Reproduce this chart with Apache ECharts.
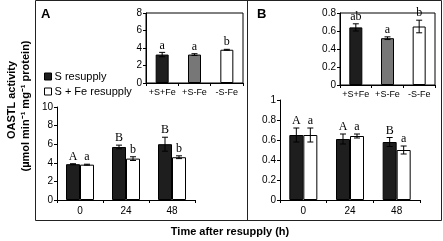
<!DOCTYPE html>
<html>
<head>
<meta charset="utf-8">
<script src="https://cdn.jsdelivr.net/npm/echarts@6/dist/echarts.min.js"></script>
<style>
html,body{margin:0;padding:0;background:#fff;}
#chart{width:443px;height:241px;}
</style>
</head>
<body>
<div id="chart"></div>
<script>
// time points + inset treatments
var times = ['0', '24', '48'];
var treatments = ['+S+Fe', '+S-Fe', '-S-Fe'];

// panel A
var aS = [3.85, 5.7, 6.0];
var aSErr = [0.05, 0.2, 0.75];
var aSLetters = ['A', 'B', 'B'];
var aSFe = [3.8, 4.45, 4.6];
var aSFeErr = [0.05, 0.2, 0.15];
var aSFeLetters = ['a', 'b', 'b'];
var aInset = [3.25, 3.25, 3.8];
var aInsetErr = [0.25, 0.1, 0.05];
var aInsetLetters = ['a', 'a', 'b'];

// panel B
var bS = [0.65, 0.61, 0.58];
var bSErr = [0.07, 0.05, 0.045];
var bSLetters = ['A', 'A', 'B'];
var bSFe = [0.65, 0.64, 0.50];
var bSFeErr = [0.07, 0.02, 0.04];
var bSFeLetters = ['a', 'a', 'a'];
var bInset = [0.64, 0.52, 0.65];
var bInsetErr = [0.04, 0.015, 0.07];
var bInsetLetters = ['ab', 'a', 'b'];

var insetColors = ['#1e1e1e', '#777777', '#ffffff'];

var myChart = echarts.init(document.getElementById('chart'));

function errData(vals, errs, letters) {
    return vals.map(function (v, i) { return [i, v, errs[i], letters[i]]; });
}

// error bar + significance letter
function errSeries(name, xi, yi, vals, errs, letters, offset) {
    return {
        name: name,
        type: 'custom',
        xAxisIndex: xi,
        yAxisIndex: yi,
        z: 5,
        encode: {x: 0, y: 1},
        data: errData(vals, errs, letters),
        renderItem: function (params, api) {
            var i = api.value(0), v = api.value(1), e = api.value(2);
            var top = api.coord([i, v + e]);
            var bot = api.coord([i, v - e]);
            var x = top[0] + offset;
            return {
                type: 'group',
                children: [
                    {type: 'line', shape: {x1: x, y1: top[1], x2: x, y2: bot[1]}, style: {stroke: '#000', lineWidth: 1}},
                    {type: 'line', shape: {x1: x - 3, y1: top[1], x2: x + 3, y2: top[1]}, style: {stroke: '#000', lineWidth: 1}},
                    {type: 'line', shape: {x1: x - 3, y1: bot[1], x2: x + 3, y2: bot[1]}, style: {stroke: '#000', lineWidth: 1}},
                    {type: 'text', style: {
                        text: letters[i], x: x, y: top[1] - 1,
                        textAlign: 'center', textVerticalAlign: 'bottom',
                        font: '12px "Liberation Serif", serif', fill: '#000'
                    }}
                ]
            };
        }
    };
}

var tickFont = {fontFamily: '"Liberation Sans", Arial, sans-serif', fontSize: 10, color: '#000'};
var axisLine = {show: true, lineStyle: {color: '#000', width: 1}};

function mainX(idx) {
    return {
        gridIndex: idx, type: 'category', data: times,
        axisLine: axisLine,
        axisTick: {show: true, length: 3, lineStyle: {color: '#000'}},
        axisLabel: Object.assign({margin: 6}, tickFont)
    };
}
function insetX(idx) {
    return {
        gridIndex: idx, type: 'category', data: treatments,
        axisLine: axisLine,
        axisTick: {show: true, length: 3, lineStyle: {color: '#000'}},
        axisLabel: Object.assign({margin: 5, interval: 0}, tickFont, {fontSize: 9})
    };
}
function yAx(idx, max, interval) {
    return {
        gridIndex: idx, type: 'value', min: 0, max: max, interval: interval,
        splitLine: {show: false},
        axisLine: axisLine,
        axisTick: {show: true, length: 3, lineStyle: {color: '#000'}},
        axisLabel: Object.assign({margin: 4}, tickFont)
    };
}

var option = {
    animation: false,
    backgroundColor: '#fff',
    grid: [
        {left: 57, right: 248, top: 107, bottom: 41},
        {left: 146, right: 200, top: 13, bottom: 158, show: true, borderColor: '#000', borderWidth: 1, backgroundColor: 'transparent'},
        {left: 280, right: 23, top: 100, bottom: 41},
        {left: 340, right: 8, top: 13, bottom: 156, show: true, borderColor: '#000', borderWidth: 1, backgroundColor: 'transparent'}
    ],
    xAxis: [mainX(0), insetX(1), mainX(2), insetX(3)],
    yAxis: [yAx(0, 10, 2), yAx(1, 8, 2), yAx(2, 1, 0.2), yAx(3, 0.8, 0.2)],
    legend: {
        orient: 'vertical', left: 39, top: 66,
        itemWidth: 7, itemHeight: 7, itemGap: 4,
        icon: 'rect',
        data: [
            {name: 'S resupply', itemStyle: {color: '#1e1e1e', borderColor: '#000', borderWidth: 1}},
            {name: 'S + Fe resupply', itemStyle: {color: '#fff', borderColor: '#000', borderWidth: 1}}
        ],
        textStyle: {fontFamily: '"Liberation Sans", Arial, sans-serif', fontSize: 11, color: '#000', padding: [0, 0, 0, -2]}
    },
    graphic: [
        {type: 'rect', shape: {x: 35.5, y: 0.5, width: 406, height: 220}, style: {fill: 'none', stroke: '#222', lineWidth: 1}},
        {type: 'line', shape: {x1: 247.5, y1: 0, x2: 247.5, y2: 220}, style: {stroke: '#222', lineWidth: 1}},
        {type: 'text', left: 41, top: 8, style: {text: 'A', font: 'bold 13px "Liberation Sans", Arial, sans-serif', fill: '#000'}},
        {type: 'text', left: 257, top: 8, style: {text: 'B', font: 'bold 13px "Liberation Sans", Arial, sans-serif', fill: '#000'}},
        {type: 'text', x: 12, y: 100, rotation: Math.PI / 2, style: {text: 'OASTL activity', textAlign: 'center', textVerticalAlign: 'middle', font: 'bold 11px "Liberation Sans", Arial, sans-serif', fill: '#000'}},
        {type: 'text', x: 26, y: 106, rotation: Math.PI / 2, style: {text: '(\u00b5mol min\u207b\u00b9 mg\u207b\u00b9 protein)', textAlign: 'center', textVerticalAlign: 'middle', font: 'bold 11px "Liberation Sans", Arial, sans-serif', fill: '#000'}},
        {type: 'text', x: 230, y: 232, style: {text: 'Time after resupply (h)', textAlign: 'center', textVerticalAlign: 'middle', font: 'bold 11px "Liberation Sans", Arial, sans-serif', fill: '#000'}}
    ],
    series: [
        {name: 'S resupply', type: 'bar', xAxisIndex: 0, yAxisIndex: 0, data: aS, barWidth: 14, barGap: '0%',
            itemStyle: {color: '#1e1e1e', borderColor: '#000', borderWidth: 1}},
        {name: 'S + Fe resupply', type: 'bar', xAxisIndex: 0, yAxisIndex: 0, data: aSFe, barWidth: 14, barGap: '0%',
            itemStyle: {color: '#fff', borderColor: '#000', borderWidth: 1}},
        errSeries('errAS', 0, 0, aS, aSErr, aSLetters, -7),
        errSeries('errASFe', 0, 0, aSFe, aSFeErr, aSFeLetters, 7),

        {name: 'insetA', type: 'bar', xAxisIndex: 1, yAxisIndex: 1, barWidth: 13,
            data: aInset.map(function (v, i) { return {value: v, itemStyle: {color: insetColors[i]}}; }),
            itemStyle: {borderColor: '#000', borderWidth: 1}},
        errSeries('errInsetA', 1, 1, aInset, aInsetErr, aInsetLetters, 0),

        {name: 'S resupply', type: 'bar', xAxisIndex: 2, yAxisIndex: 2, data: bS, barWidth: 14, barGap: '0%',
            itemStyle: {color: '#1e1e1e', borderColor: '#000', borderWidth: 1}},
        {name: 'S + Fe resupply', type: 'bar', xAxisIndex: 2, yAxisIndex: 2, data: bSFe, barWidth: 14, barGap: '0%',
            itemStyle: {color: '#fff', borderColor: '#000', borderWidth: 1}},
        errSeries('errBS', 2, 2, bS, bSErr, bSLetters, -7),
        errSeries('errBSFe', 2, 2, bSFe, bSFeErr, bSFeLetters, 7),

        {name: 'insetB', type: 'bar', xAxisIndex: 3, yAxisIndex: 3, barWidth: 13,
            data: bInset.map(function (v, i) { return {value: v, itemStyle: {color: insetColors[i]}}; }),
            itemStyle: {borderColor: '#000', borderWidth: 1}},
        errSeries('errInsetB', 3, 3, bInset, bInsetErr, bInsetLetters, 0)
    ]
};
myChart.setOption(option);
</script>
</body>
</html>
